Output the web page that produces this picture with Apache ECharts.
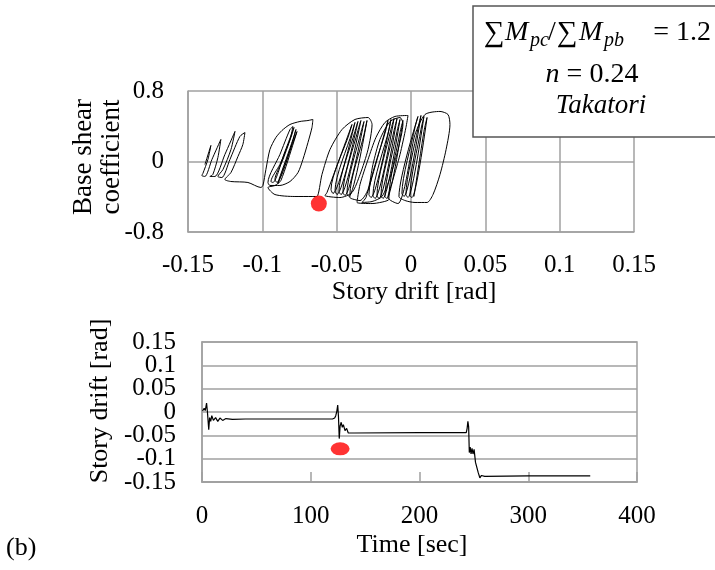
<!DOCTYPE html>
<html>
<head>
<meta charset="utf-8">
<script src="https://cdn.jsdelivr.net/npm/echarts@6/dist/echarts.min.js"></script>
<style>
html,body{margin:0;padding:0;background:#fff;}
#c{width:715px;height:570px;}
</style>
</head>
<body>
<div id="c"></div>
<script>
// ---- Top panel: hysteresis (story drift [rad] vs base shear coefficient) ----
const hysDrift = [
  // group 1
  -0.1386,-0.1346,-0.1366,-0.1400,-0.1407,-0.1386,-0.1339,-0.1279,-0.1299,-0.1333,-0.1353,-0.1319,-0.1252,-0.1184,-0.1211,-0.1265,-0.1299,-0.1272,-0.1218,-0.1151,-0.1117,-0.1131,-0.1164,-0.1211,-0.1252,
  -0.1211,-0.1097,-0.1010,
  // group 2
  -0.0996,-0.0976,-0.0949,-0.0909,-0.0868,-0.0814,-0.0747,-0.0693,-0.0660,-0.0666,-0.0693,-0.0727,-0.0760,-0.0814,-0.0882,-0.0949,
  -0.0962,-0.0882,-0.0814,-0.0794,-0.0814,-0.0882,-0.0942,-0.0929,-0.0848,-0.0787,-0.0801,-0.0861,-0.0915,-0.0902,-0.0774,-0.0794,-0.0888,-0.0895,-0.0767,-0.0787,-0.0875,-0.0915,-0.0962,
  // connecting curve
  -0.0915,-0.0781,-0.0660,-0.0633,
  // group 3
  -0.0599,-0.0545,-0.0464,-0.0377,-0.0289,-0.0262,-0.0289,-0.0343,-0.0397,-0.0478,-0.0579,
  -0.0565,-0.0397,-0.0417,-0.0538,-0.0525,-0.0377,-0.0397,-0.0511,-0.0498,-0.0357,-0.0377,-0.0485,-0.0471,-0.0337,-0.0357,-0.0458,-0.0444,-0.0316,-0.0337,-0.0431,-0.0417,-0.0296,-0.0316,-0.0411,
  -0.0411,-0.0343,-0.0289,-0.0256,-0.0209,-0.0141,-0.0074,-0.0054,-0.0087,-0.0141,-0.0195,-0.0262,-0.0330,
  -0.0303,-0.0155,-0.0168,-0.0283,-0.0269,-0.0135,-0.0148,-0.0256,-0.0242,-0.0114,-0.0135,-0.0229,-0.0215,-0.0094,-0.0114,-0.0202,-0.0188,-0.0074,-0.0094,-0.0175,-0.0162,-0.0054,-0.0074,-0.0148,
  -0.0148,-0.0262,-0.0363,-0.0343,-0.0289,-0.0236,-0.0175,-0.0108,-0.0020,-0.0034,-0.0074,-0.0121,-0.0155,
  -0.0087,-0.0047,-0.0007,0.0027,0.0094,0.0195,0.0249,0.0262,0.0236,0.0195,0.0148,0.0108,0.0027,-0.0040,
  -0.0081,0.0047,0.0027,-0.0061,-0.0047,0.0067,0.0047,-0.0034,-0.0020,0.0087,0.0067,-0.0007,0.0007,0.0108,0.0087,0.0020
];
const hysShear = [
  // group 1
  -0.034,0.182,0.023,-0.136,-0.159,-0.170,0.023,0.250,0.045,-0.148,-0.170,-0.170,0.079,0.341,0.136,-0.091,-0.170,-0.182,0.023,0.284,0.329,0.193,0.057,-0.125,-0.204,
  -0.227,-0.238,-0.295,
  // group 2
  -0.272,-0.091,0.136,0.272,0.352,0.420,0.454,0.465,0.477,0.386,0.216,0.023,-0.125,-0.227,-0.272,-0.272,
  -0.238,0.079,0.363,0.397,0.250,-0.034,-0.227,-0.238,0.113,0.386,0.306,0.023,-0.204,-0.238,0.363,0.250,-0.204,-0.250,0.340,0.230,-0.215,-0.272,-0.295,
  // connecting curve
  -0.375,-0.397,-0.397,-0.397,
  // group 3
  -0.148,0.136,0.363,0.477,0.499,0.420,0.136,-0.148,-0.352,-0.409,-0.386,
  -0.352,0.420,0.306,-0.318,-0.363,0.443,0.329,-0.329,-0.375,0.454,0.341,-0.341,-0.375,0.465,0.352,-0.352,-0.386,0.454,0.329,-0.363,-0.397,0.465,0.306,-0.375,
  -0.409,-0.443,-0.318,-0.034,0.250,0.454,0.499,0.431,0.136,-0.182,-0.397,-0.454,-0.465,
  -0.409,0.465,0.363,-0.375,-0.409,0.477,0.363,-0.386,-0.420,0.488,0.363,-0.386,-0.420,0.488,0.352,-0.386,-0.420,0.477,0.341,-0.397,-0.420,0.465,0.329,-0.397,
  -0.431,-0.477,-0.465,-0.261,0.023,0.272,0.443,0.511,0.522,0.386,0.079,-0.204,-0.409,
  -0.477,-0.318,0.023,0.306,0.533,0.568,0.533,0.420,0.136,-0.148,-0.375,-0.465,-0.465,-0.443,
  -0.397,0.511,0.386,-0.363,-0.397,0.522,0.375,-0.375,-0.409,0.511,0.363,-0.386,-0.409,0.499,0.341,-0.397
];
const hysMarker = [-0.062, -0.477];

// ---- Bottom panel: story drift time history ----
const timeSec = [0.5,2.0,3.0,4.2,5.0,6.2,7.0,8.0,9.0,10.5,12.5,14.5,16.5,19,22,28,40,80,120,
  122,123,124,124.8,125.5,126.2,127.0,128.0,129.0,130.0,131.5,133,134.5,140,200,243,
  243.8,244.5,245.2,245.8,246.6,247.4,248.3,249.2,250.2,251.5,252.5,254,255.5,257,260,300,357];
const driftRad = [0.002,0.008,0.003,0.019,0.0,-0.038,-0.012,-0.020,-0.008,-0.018,-0.012,-0.020,-0.013,-0.018,-0.014,-0.016,-0.015,-0.015,-0.015,
  -0.013,-0.008,0.002,0.015,-0.010,-0.057,-0.030,-0.022,-0.033,-0.027,-0.040,-0.035,-0.045,-0.045,-0.044,-0.044,
  -0.035,-0.020,-0.032,-0.087,-0.075,-0.090,-0.078,-0.090,-0.080,-0.108,-0.112,-0.130,-0.141,-0.136,-0.138,-0.137,-0.137];
const timeMarker = [127, -0.079];

const topXTicks = ['-0.15','-0.1','-0.05','0','0.05','0.1','0.15'];
const topYTicks = ['-0.8','0','0.8'];
const botXTicks = ['0','100','200','300','400'];
const botYTicks = ['-0.15','-0.1','-0.05','0','0.05','0.1','0.15'];

const FONT = 'Liberation Serif';
const GRAY = '#a0a0a0';

const hysData = hysDrift.map((x, i) => [x, hysShear[i]]);
const timeData = timeSec.map((t, i) => [t, driftRad[i]]);

const chart = echarts.init(document.getElementById('c'), null, {renderer: 'canvas'});
const labelStyle = {color: '#000', fontFamily: FONT, fontSize: 25, showMinLabel: true, showMaxLabel: true, hideOverlap: false};
const botYIdx = v => Math.round((v + 0.15) / 0.05);

chart.setOption({
  animation: false,
  backgroundColor: '#fff',
  textStyle: {fontFamily: FONT},
  grid: [
    {left: 188, top: 91, width: 446, height: 141, show: false},
    {left: 202, top: 342, width: 435, height: 140, show: true, borderColor: GRAY, borderWidth: 1.5, backgroundColor: 'transparent'}
  ],
  xAxis: [
    {type: 'value', gridIndex: 0, min: -0.15, max: 0.15, interval: 0.05,
     axisLine: {show: true, onZero: false, lineStyle: {color: GRAY, width: 1.5}},
     axisTick: {show: false},
     splitLine: {show: true, lineStyle: {color: GRAY, width: 1.5}},
     axisLabel: Object.assign({margin: 21, formatter: v => topXTicks[Math.round((v + 0.15) / 0.05)]}, labelStyle)},
    {type: 'value', gridIndex: 1, min: 0, max: 400, interval: 100,
     axisLine: {show: true, onZero: false, lineStyle: {color: GRAY, width: 1.5}},
     axisTick: {show: true, inside: true, length: 10, lineStyle: {color: GRAY, width: 1.5}},
     splitLine: {show: false},
     axisLabel: Object.assign({margin: 22, formatter: v => botXTicks[Math.round(v / 100)]}, labelStyle)}
  ],
  yAxis: [
    {type: 'value', gridIndex: 0, min: -0.8, max: 0.8, interval: 0.8,
     axisLine: {show: true, onZero: false, lineStyle: {color: GRAY, width: 1.5}},
     axisTick: {show: false},
     splitLine: {show: true, lineStyle: {color: GRAY, width: 1.5}},
     axisLabel: Object.assign({margin: 24, formatter: v => topYTicks[Math.round((v + 0.8) / 0.8)]}, labelStyle)},
    // bottom panel: labels at -0.15, -0.05, 0.05, 0.15
    {type: 'value', gridIndex: 1, min: -0.15, max: 0.15, interval: 0.05,
     axisLine: {show: true, onZero: false, lineStyle: {color: GRAY, width: 1.5}},
     axisTick: {show: false},
     splitLine: {show: true, lineStyle: {color: GRAY, width: 1.5}},
     axisLabel: Object.assign({}, labelStyle, {margin: 26, formatter: v => (botYIdx(v) % 2 === 0 ? botYTicks[botYIdx(v)] : '')})},
    // bottom panel: labels at -0.1, 0, 0.1 (same scale, same position)
    {type: 'value', gridIndex: 1, min: -0.15, max: 0.15, interval: 0.05, position: 'left',
     axisLine: {show: false, onZero: false},
     axisTick: {show: false},
     splitLine: {show: false},
     axisLabel: Object.assign({}, labelStyle, {showMinLabel: null, showMaxLabel: null, margin: 26, formatter: v => (botYIdx(v) % 2 === 1 ? botYTicks[botYIdx(v)] : '')})}
  ],
  series: [
    {type: 'line', xAxisIndex: 0, yAxisIndex: 0, data: hysData, showSymbol: false, smooth: 0.25,
     lineStyle: {color: '#000', width: 1}, z: 3},
    {type: 'scatter', xAxisIndex: 0, yAxisIndex: 0, data: [hysMarker], symbolSize: 16,
     itemStyle: {color: '#ff0000'}, z: 5},
    {type: 'line', xAxisIndex: 1, yAxisIndex: 1, data: timeData, showSymbol: false,
     lineStyle: {color: '#000', width: 1.2}, z: 3},
    {type: 'scatter', xAxisIndex: 1, yAxisIndex: 1, data: [timeMarker], symbolSize: [19, 13],
     itemStyle: {color: '#ff0000'}, z: 5}
  ],
  graphic: [
    {type: 'rect', shape: {x: 473, y: 6, width: 260, height: 131}, z: 100,
     style: {fill: '#fff', stroke: '#555', lineWidth: 1.5}},
    {type: 'text', x: 484, y: 33, z: 101, style: {text: '∑', font: '29px "Liberation Serif"', fill: '#000', verticalAlign: 'middle', align: 'left'}},
    {type: 'text', x: 505, y: 33, z: 101, style: {text: 'M', font: 'italic 28px "Liberation Serif"', fill: '#000', verticalAlign: 'middle', align: 'left'}},
    {type: 'text', x: 530, y: 41, z: 101, style: {text: 'pc', font: 'italic 20px "Liberation Serif"', fill: '#000', verticalAlign: 'middle', align: 'left'}},
    {type: 'text', x: 548, y: 33, z: 101, style: {text: '/', font: '28px "Liberation Serif"', fill: '#000', verticalAlign: 'middle', align: 'left'}},
    {type: 'text', x: 557, y: 33, z: 101, style: {text: '∑', font: '29px "Liberation Serif"', fill: '#000', verticalAlign: 'middle', align: 'left'}},
    {type: 'text', x: 579, y: 33, z: 101, style: {text: 'M', font: 'italic 28px "Liberation Serif"', fill: '#000', verticalAlign: 'middle', align: 'left'}},
    {type: 'text', x: 604, y: 41, z: 101, style: {text: 'pb', font: 'italic 20px "Liberation Serif"', fill: '#000', verticalAlign: 'middle', align: 'left'}},
    {type: 'text', x: 711, y: 33, z: 101, style: {text: '= 1.2', font: '28px "Liberation Serif"', fill: '#000', verticalAlign: 'middle', align: 'right'}},
    {type: 'text', x: 592, y: 75, z: 101, style: {text: '{i|n} = 0.24', font: '28px "Liberation Serif"', fill: '#000', verticalAlign: 'middle', align: 'center',
      rich: {i: {fontStyle: 'italic', fontFamily: FONT, fontSize: 28}}}},
    {type: 'text', x: 601, y: 106, z: 101, style: {text: 'Takatori', font: 'italic 27px "Liberation Serif"', fill: '#000', verticalAlign: 'middle', align: 'center'}},
    {type: 'text', x: 84, y: 157, rotation: Math.PI / 2, z: 101, style: {text: 'Base shear', font: '27px "Liberation Serif"', fill: '#000', verticalAlign: 'middle', align: 'center'}},
    {type: 'text', x: 112, y: 157, rotation: Math.PI / 2, z: 101, style: {text: 'coefficient', font: '27px "Liberation Serif"', fill: '#000', verticalAlign: 'middle', align: 'center'}},
    {type: 'text', x: 414, y: 292, z: 101, style: {text: 'Story drift [rad]', font: '26px "Liberation Serif"', fill: '#000', verticalAlign: 'middle', align: 'center'}},
    {type: 'text', x: 100, y: 401, rotation: Math.PI / 2, z: 101, style: {text: 'Story drift [rad]', font: '26px "Liberation Serif"', fill: '#000', verticalAlign: 'middle', align: 'center'}},
    {type: 'text', x: 412, y: 545, z: 101, style: {text: 'Time [sec]', font: '26px "Liberation Serif"', fill: '#000', verticalAlign: 'middle', align: 'center'}},
    {type: 'text', x: 6, y: 548, z: 101, style: {text: '(b)', font: '26px "Liberation Serif"', fill: '#000', verticalAlign: 'middle', align: 'left'}}
  ]
});
</script>
</body>
</html>
